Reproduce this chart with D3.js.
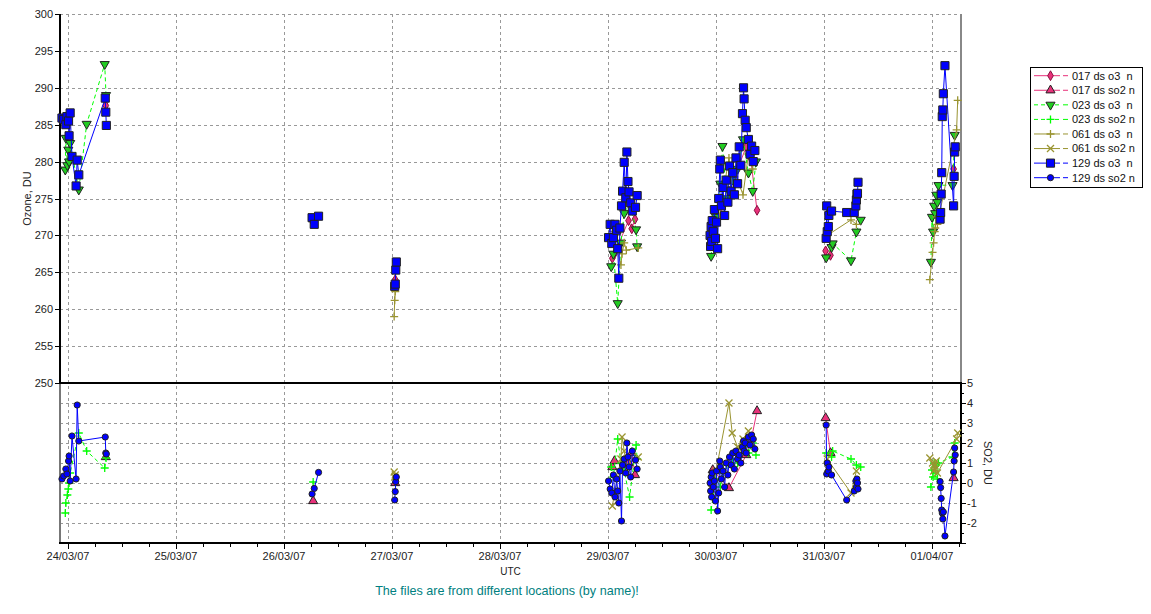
<!DOCTYPE html>
<html>
<head>
<meta charset="utf-8">
<script src="https://cdn.jsdelivr.net/npm/d3@7"></script>
<style>
body { margin: 0; background: #fff; }
svg { display: block; font-family: "Liberation Sans", Arial, sans-serif; }
</style>
</head>
<body>
<script>
// time in days since 24/03/07 00:00 UTC
var dayLabels = ["24/03/07","25/03/07","26/03/07","27/03/07","28/03/07","29/03/07","30/03/07","31/03/07","01/04/07"];
var o3Ticks = [250,255,260,265,270,275,280,285,290,295,300];
var so2Ticks = [-2,-1,0,1,2,3,4,5];

// station 017
var t017 = [0.35, 2.27, 3.03,
  5.04,5.06,5.19,5.22,5.25,
  5.97,6.12,6.28,6.32,6.38,
  7.015,7.06,
  8.2];
var o3_017 = [287.6,271.8,264.0,
  266.9,267.5,272.0,270.9,272.2,
  270.5,276.0,282.0,280.5,273.4,
  267.9,267.3,
  279.0];
var so2_017 = [1.3,-0.9,0.0,
  0.8,1.1,1.0,1.5,0.4,
  0.65,-0.25,1.4,2.0,3.6,
  3.25,1.5,
  0.25];

// station 023
var t023 = [-0.025,-0.02,-0.006,0.003,0.01,0.02,0.10,0.173,0.34,0.352,
  2.27,
  5.03,5.05,5.09,5.12,5.15,5.2,5.26,5.27,
  5.955,5.97,6.0,6.04,6.06,6.1,6.15,6.2,6.25,6.3,6.34,6.37,
  7.02,7.07,7.08,7.25,7.3,7.34,
  7.99,8.0,8.01,8.02,8.03,8.04,8.05,8.06,8.19,8.21];
var o3_023 = [278.9,283.2,279.5,281.6,280.0,282.5,276.2,285.1,293.2,289.0,
  271.8,
  265.8,267.5,260.8,269.0,273.0,274.5,270.8,268.5,
  267.2,270.0,272.5,277.0,282.1,275.0,277.5,279.0,283.0,278.5,276.0,280.0,
  267.0,268.4,268.9,266.6,270.5,272.1,
  266.4,272.5,270.5,274.0,273.0,275.5,274.5,276.8,276.8,283.6];
var so2_023 = [-1.5,-1.0,-0.6,-0.3,0.0,0.5,2.5,1.6,0.75,1.25,
  0.05,
  0.8,0.3,2.2,1.0,0.6,-0.7,1.9,1.2,
  -1.35,-0.8,0.2,-0.2,0.5,0.9,1.2,1.0,1.8,1.5,2.0,1.4,
  1.5,1.3,1.6,1.2,0.9,0.8,
  -0.2,0.65,0.3,1.0,0.5,0.9,0.2,1.0,1.3,2.0];

// station 061
var t061 = [3.02,3.025,3.03,
  5.04,5.12,5.13,5.15,5.17,5.28,
  5.96,6.0,6.12,6.15,6.2,6.25,6.3,6.34,
  7.03,7.25,7.3,
  7.98,8.005,8.015,8.025,8.03,8.04,8.05,8.228,8.238];
var o3_061 = [259.0,261.2,262.4,
  270.5,266.0,267.5,269.0,268.0,268.3,
  268.5,270.0,280.5,276.0,277.5,275.5,281.0,279.0,
  270.0,272.1,271.5,
  264.0,267.7,269.0,270.5,271.0,272.5,271.5,284.3,288.3];
var so2_061 = [0.55,0.3,0.4,
  -1.15,1.2,2.3,1.6,0.9,1.3,
  -0.3,0.6,4.0,2.5,1.8,2.2,2.6,2.0,
  1.2,-0.5,0.6,
  1.25,1.0,0.6,0.9,0.7,1.1,0.5,2.2,2.5];

// station 129
var t129 = [-0.056,-0.04,-0.02,-0.01,0.005,0.01,0.02,0.037,0.075,0.085,0.10,0.345,0.35,0.355,
  2.26,2.28,2.32,
  3.025,3.03,3.035,3.04,
  5.005,5.02,5.035,5.05,5.065,5.08,5.09,5.10,5.11,5.125,5.135,5.15,5.165,5.175,5.185,5.195,5.21,5.225,5.255,5.27,
  5.945,5.95,5.955,5.96,5.965,5.975,5.985,5.995,6.005,6.015,6.025,6.035,6.04,6.05,6.065,6.08,6.095,6.11,6.125,6.14,
  6.155,6.17,6.185,6.2,6.215,6.23,6.245,6.255,6.26,6.27,6.28,6.3,6.315,6.33,6.345,6.36,
  7.02,7.025,7.03,7.04,7.045,7.07,7.21,7.28,7.295,7.30,7.305,7.31,7.315,
  8.075,8.08,8.085,8.09,8.095,8.10,8.105,8.12,8.2,8.205,8.21,8.215];
var o3_129 = [285.9,285.7,285.0,286.1,285.5,283.5,286.6,280.7,276.7,280.2,278.2,288.6,286.7,284.9,
  272.4,271.5,272.6,
  263.1,263.4,265.3,266.4,
  269.7,271.5,268.9,269.7,271.5,270.7,268.2,264.2,271.0,274.0,276.0,279.9,275.1,281.3,277.3,275.9,274.4,273.3,273.8,275.4,
  270.0,268.5,271.2,269.2,272.0,270.5,273.5,269.6,271.8,268.2,275.0,279.0,280.2,274.0,276.5,272.7,277.5,274.5,279.4,276.0,
  278.5,275.5,280.5,277.0,282.0,279.5,286.5,290.0,288.5,285.6,284.6,283.0,281.0,282.1,280.0,281.5,
  269.6,274.0,270.5,271.2,272.7,273.3,273.1,273.1,274.0,274.8,275.6,275.7,277.2,
  272.2,273.1,275.6,278.5,286.1,287.0,289.2,293.0,274.0,278.0,281.3,282.0];
var so2_129 = [0.2,0.35,0.7,0.45,1.1,1.35,0.1,2.35,0.2,3.9,2.1,2.3,1.5,1.45,
  -0.55,-0.27,0.53,
  -0.85,-0.43,0.07,0.3,
  0.1,-0.3,-0.5,0.4,-0.7,0.2,-0.4,-1.0,0.6,-1.9,0.9,1.2,0.5,2.0,1.3,0.8,0.3,1.6,1.15,0.7,
  0.0,-0.4,0.3,-0.7,0.5,-0.2,0.1,-0.9,0.6,-1.4,-0.5,1.1,0.8,0.2,0.6,-0.2,1.0,0.4,1.3,0.9,
  1.5,0.7,1.6,1.2,1.4,1.0,1.8,2.1,1.6,2.0,1.5,2.3,1.9,2.4,2.2,1.7,
  2.9,0.45,1.0,0.6,0.8,0.4,-0.85,-0.4,0.1,-0.2,0.2,0.0,-0.3,
  0.07,-0.23,-0.77,-1.35,-1.5,-1.8,-1.45,-2.65,0.55,1.1,1.75,1.4];

var width = 1151, height = 614;
var L = 60, R = 961, T = 14, M = 383, B = 543;

var svg = d3.select("body").append("svg")
  .attr("width", width)
  .attr("height", height);
svg.append("rect").attr("width", width).attr("height", height).attr("fill", "#fff");

var x = d3.scaleLinear().domain([0, 8]).range([68, 932]);
var yO3 = d3.scaleLinear().domain([250, 300]).range([M, T]);
var ySO2 = d3.scaleLinear().domain([-3, 5]).range([B, M]);

function px(v) { return Math.round(v) + 0.5; }

// grid
var grid = svg.append("g").attr("stroke", "#999").attr("stroke-dasharray", "3,3").attr("stroke-width", 1);
d3.range(0, 9).forEach(function(d) {
  grid.append("line").attr("x1", px(x(d))).attr("x2", px(x(d))).attr("y1", T).attr("y2", B);
});
o3Ticks.filter(function(d) { return d > 250; }).forEach(function(d) {
  grid.append("line").attr("x1", L).attr("x2", R).attr("y1", px(yO3(d))).attr("y2", px(yO3(d)));
});
so2Ticks.filter(function(d) { return d < 5; }).forEach(function(d) {
  grid.append("line").attr("x1", L).attr("x2", R).attr("y1", px(ySO2(d))).attr("y2", px(ySO2(d)));
});

// frame
svg.append("line").attr("x1", L).attr("x2", L).attr("y1", T).attr("y2", M).attr("stroke", "#000").attr("stroke-width", 2);
svg.append("line").attr("x1", L).attr("x2", L).attr("y1", M).attr("y2", B).attr("stroke", "#777").attr("stroke-width", 2);
svg.append("line").attr("x1", R).attr("x2", R).attr("y1", T).attr("y2", M).attr("stroke", "#888").attr("stroke-width", 2);
svg.append("line").attr("x1", R).attr("x2", R).attr("y1", M).attr("y2", B + 1).attr("stroke", "#000").attr("stroke-width", 2);
svg.append("line").attr("x1", L - 1).attr("x2", R + 1).attr("y1", M).attr("y2", M).attr("stroke", "#000").attr("stroke-width", 2);
svg.append("line").attr("x1", L - 1).attr("x2", R + 1).attr("y1", B).attr("y2", B).attr("stroke", "#000").attr("stroke-width", 2);

// left axis (ozone)
var leftAx = svg.append("g").attr("font-size", 11).attr("fill", "#222");
o3Ticks.forEach(function(d) {
  var yy = px(yO3(d));
  leftAx.append("line").attr("x1", L - 5).attr("x2", L).attr("y1", yy).attr("y2", yy).attr("stroke", "#000");
  leftAx.append("text").attr("x", L - 7).attr("y", yy).attr("dy", "0.35em").attr("text-anchor", "end").text(d);
});
svg.append("text").attr("transform", "translate(27," + ((T + M) / 2) + ") rotate(-90)")
  .attr("text-anchor", "middle").attr("dy", "0.35em").attr("font-size", 11).attr("fill", "#222").text("Ozone, DU");

// right axis (SO2)
var rightAx = svg.append("g").attr("font-size", 11).attr("fill", "#222");
d3.range(-3, 5.01, 0.5).forEach(function(d) {
  var yy = px(ySO2(d));
  var major = Math.abs(d - Math.round(d)) < 1e-6;
  rightAx.append("line").attr("x1", R).attr("x2", R + (major ? 5 : 3)).attr("y1", yy).attr("y2", yy).attr("stroke", "#000");
});
so2Ticks.forEach(function(d) {
  rightAx.append("text").attr("x", R + 6).attr("y", px(ySO2(d))).attr("dy", "0.35em").text(d);
});
svg.append("text").attr("transform", "translate(988," + ((M + B) / 2) + ") rotate(90)")
  .attr("text-anchor", "middle").attr("dy", "0.35em").attr("font-size", 11).attr("fill", "#222").text("SO2, DU");

// bottom axis (time)
var botAx = svg.append("g").attr("font-size", 11).attr("fill", "#222");
d3.range(0, 8.3, 0.25).forEach(function(d) {
  var xx = px(x(d));
  if (xx > R) return;
  var major = Math.abs(d - Math.round(d)) < 1e-6;
  botAx.append("line").attr("x1", xx).attr("x2", xx).attr("y1", B).attr("y2", B + (major ? 6 : 4)).attr("stroke", "#000");
});
dayLabels.forEach(function(lab, i) {
  botAx.append("text").attr("x", x(i)).attr("y", 560).attr("text-anchor", "middle").text(lab);
});
svg.append("text").attr("x", (L + R) / 2).attr("y", 575).attr("text-anchor", "middle")
  .attr("font-size", 10).attr("fill", "#222").text("UTC");
svg.append("text").attr("x", 507).attr("y", 595).attr("text-anchor", "middle")
  .attr("font-size", 12.6).attr("fill", "#008080").text("The files are from different locations (by name)!");

// series
var pink = "#e8317a", lime = "#00ff00", olive = "#9a9431", blue = "#0000ff";
var series = [
  { name: "017 ds o3  n",  t: t017, v: o3_017,  y: yO3,  color: pink,  mk: "diamond",  dash: null },
  { name: "017 ds so2 n",  t: t017, v: so2_017, y: ySO2, color: pink,  mk: "triangle", dash: null },
  { name: "023 ds o3  n",  t: t023, v: o3_023,  y: yO3,  color: lime,  mk: "triDown",  dash: "4,3" },
  { name: "023 ds so2 n",  t: t023, v: so2_023, y: ySO2, color: lime,  mk: "plus",     dash: "4,3" },
  { name: "061 ds o3  n",  t: t061, v: o3_061,  y: yO3,  color: olive, mk: "plus",     dash: null },
  { name: "061 ds so2 n",  t: t061, v: so2_061, y: ySO2, color: olive, mk: "cross",    dash: null },
  { name: "129 ds o3  n",  t: t129, v: o3_129,  y: yO3,  color: blue,  mk: "square",   dash: null },
  { name: "129 ds so2 n",  t: t129, v: so2_129, y: ySO2, color: blue,  mk: "circle",   dash: null }
];

function drawMarker(g, kind, color, cx, cy) {
  if (kind === "plus") {
    g.append("path").attr("d", "M-4,0H4M0,-4V4").attr("transform", "translate(" + cx + "," + cy + ")")
      .attr("stroke", color).attr("stroke-width", 1.3).attr("fill", "none");
    return;
  }
  if (kind === "cross") {
    g.append("path").attr("d", "M-3.5,-3.5L3.5,3.5M-3.5,3.5L3.5,-3.5").attr("transform", "translate(" + cx + "," + cy + ")")
      .attr("stroke", color).attr("stroke-width", 1.3).attr("fill", "none");
    return;
  }
  var sym, size, rot = 0, stroke = "#222";
  if (kind === "diamond") { sym = d3.symbolDiamond; size = 28; stroke = "#8a1040"; }
  if (kind === "triangle") { sym = d3.symbolTriangle; size = 36; }
  if (kind === "triDown") { sym = d3.symbolTriangle; size = 36; rot = 180; }
  if (kind === "square") { sym = d3.symbolSquare; size = 66; }
  if (kind === "circle") { sym = d3.symbolCircle; size = 30; }
  g.append("path").attr("d", d3.symbol(sym, size)())
    .attr("transform", "translate(" + cx + "," + cy + ") rotate(" + rot + ")")
    .attr("fill", kind === "triDown" ? "#22cc22" : color)
    .attr("stroke", stroke).attr("stroke-width", 1);
}

var plot = svg.append("g");
series.forEach(function(s) {
  var pts = s.t.map(function(t, i) { return [t, s.v[i]]; });
  var segs = [], cur = [];
  pts.forEach(function(p, i) {
    if (i > 0 && p[0] - pts[i - 1][0] > 0.45) { segs.push(cur); cur = []; }
    cur.push(p);
  });
  segs.push(cur);
  var line = d3.line().x(function(d) { return x(d[0]); }).y(function(d) { return s.y(d[1]); });
  var g = plot.append("g");
  segs.forEach(function(seg) {
    g.append("path").attr("d", line(seg)).attr("fill", "none").attr("stroke", s.color)
      .attr("stroke-width", 1).attr("stroke-dasharray", s.dash);
  });
  pts.forEach(function(p) { drawMarker(g, s.mk, s.color, x(p[0]), s.y(p[1])); });
});

// legend
var lg = svg.append("g");
lg.append("rect").attr("x", 1030.5).attr("y", 67.5).attr("width", 112).attr("height", 120)
  .attr("fill", "#fff").attr("stroke", "#000");
series.forEach(function(s, i) {
  var yy = 75.7 + i * 14.57;
  var row = lg.append("g");
  row.append("line").attr("x1", 1034).attr("x2", 1060).attr("y1", yy).attr("y2", yy)
    .attr("stroke", s.color).attr("stroke-dasharray", s.dash);
  row.append("line").attr("x1", 1063).attr("x2", 1068).attr("y1", yy).attr("y2", yy).attr("stroke", s.color);
  drawMarker(row, s.mk, s.color, 1050.5, yy);
  row.append("text").attr("x", 1072).attr("y", yy).attr("dy", "0.35em").attr("font-size", 11)
    .attr("fill", "#111").style("white-space", "pre").text(s.name);
});
</script>
</body>
</html>
